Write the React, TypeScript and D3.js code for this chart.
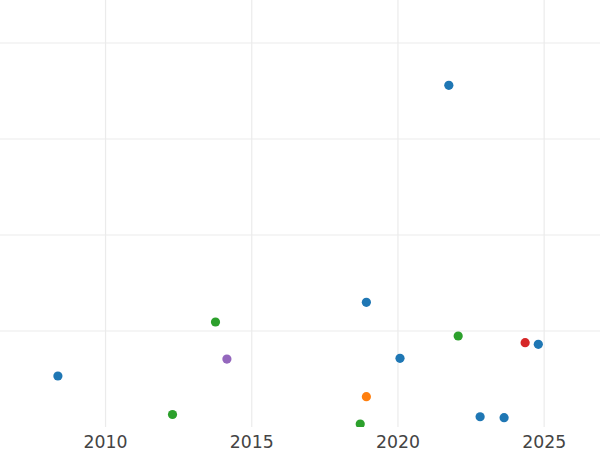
import React from "react";
import * as d3 from "d3";

const years = [2008.37, 2012.29, 2013.76, 2014.15, 2018.92, 2018.92, 2018.71, 2020.07, 2022.06, 2021.74, 2022.81, 2023.63, 2024.35, 2024.8];
const values = [53.1, 13.0, 109.4, 70.8, 129.9, 31.6, 3.1, 71.5, 94.8, 355.9, 10.7, 9.7, 87.8, 86.1];
const groups = ["A", "C", "C", "E", "A", "B", "C", "A", "C", "A", "A", "A", "D", "A"];
const groupNames = ["A", "B", "C", "D", "E"];
const xTicks = [2010, 2015, 2020, 2025];
const yTicks = [100, 200, 300, 400];

export default function App() {
  const W = 600, H = 450;
  const plotBottom = 427;
  const x = d3.scaleLinear().domain([2006.39, 2026.91]).range([0, W]);
  const y = d3.scaleLinear().domain([0, 444.8]).range([plotBottom, 0]);
  const color = d3.scaleOrdinal<string, string>().domain(groupNames).range(d3.schemeCategory10);
  return (
    <svg width={W} height={H} style={{ position: "absolute", left: 0, top: 0, display: "block", background: "#fff" }}>
      <defs>
        <clipPath id="plotclip">
          <rect x={0} y={0} width={W} height={plotBottom} />
        </clipPath>
      </defs>
      <g>
        {xTicks.map((t) => (
          <line key={"vx" + t} x1={x(t)} x2={x(t)} y1={0} y2={plotBottom} stroke="#ebebeb" strokeWidth={1.2} />
        ))}
        {yTicks.map((t) => (
          <line key={"hy" + t} x1={0} x2={W} y1={y(t)} y2={y(t)} stroke="#ebebeb" strokeWidth={1} />
        ))}
      </g>
      <g clipPath="url(#plotclip)">
        {years.map((yr, i) => (
          <circle key={i} cx={x(yr)} cy={y(values[i])} r={4.6} fill={color(groups[i])} />
        ))}
      </g>
      <g>
        {xTicks.map((t) => (
          <text key={"lx" + t} x={x(t)} y={447.5} textAnchor="middle" fontFamily="DejaVu Sans" fontSize={17.3} fill="#444">
            {t}
          </text>
        ))}
      </g>
    </svg>
  );
}
